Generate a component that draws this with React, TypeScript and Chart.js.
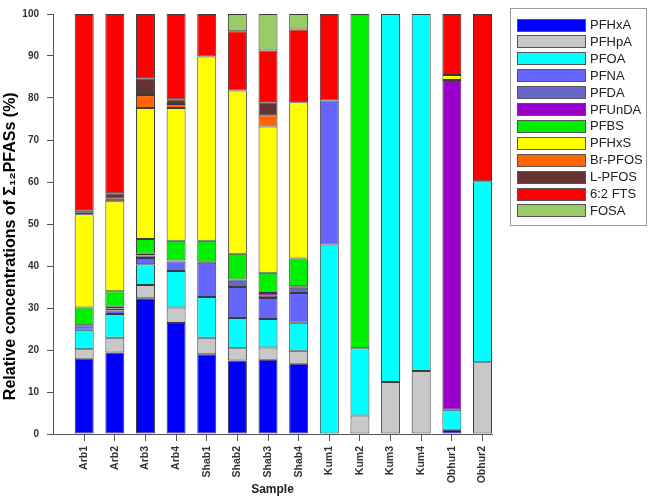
import React, { useEffect, useRef } from "react";
import { Chart, registerables } from "chart.js";

Chart.register(...registerables);

const samples = ["Arb1", "Arb2", "Arb3", "Arb4", "Shab1", "Shab2", "Shab3", "Shab4", "Kum1", "Kum2", "Kum3", "Kum4", "Obhur1", "Obhur2"];

const pfhxa = [17.9, 19.4, 32.3, 26.4, 19.0, 17.5, 17.7, 16.7, 0, 0, 0, 0, 1.0, 0];
const pfhpa = [2.3, 3.5, 3.2, 3.7, 3.9, 2.9, 2.9, 3.1, 0, 4.4, 12.4, 15.0, 0, 17.1];
const pfoa = [4.6, 5.7, 4.9, 8.7, 9.7, 7.2, 6.8, 6.7, 45.1, 16.0, 87.6, 85.0, 4.8, 43.1];
const pfna = [1.1, 0.8, 1.5, 2.3, 8.2, 7.4, 5.0, 7.1, 34.3, 0, 0, 0, 0, 0];
const pfda = [0, 0.5, 0.6, 0.2, 0.2, 1.5, 0.5, 1.2, 0, 0, 0, 0, 0, 0];
const pfunda = [0, 0.4, 0.4, 0, 0, 0.3, 0.7, 0.4, 0, 0, 0, 0, 78.5, 0];
const pfbs = [4.2, 3.7, 3.5, 4.7, 5.0, 6.1, 4.8, 6.6, 0, 79.6, 0, 0, 0, 0];
const pfhxs = [22.2, 21.4, 31.2, 31.6, 43.9, 38.9, 34.8, 37.2, 0, 0, 0, 0, 1.2, 0];
const brpfos = [0.4, 0.6, 3.1, 1.0, 0, 0, 2.7, 0, 0, 0, 0, 0, 0, 0];
const lpfos = [0.6, 1.3, 4.0, 1.1, 0, 0, 3.1, 0, 0, 0, 0, 0, 0, 0];
const fts62 = [46.7, 42.7, 15.3, 20.3, 10.1, 14.1, 12.3, 17.3, 20.6, 0, 0, 0, 14.5, 39.8];
const fosa = [0, 0, 0, 0, 0, 4.1, 8.7, 3.7, 0, 0, 0, 0, 0, 0];

const seriesNames = ["PFHxA", "PFHpA", "PFOA", "PFNA", "PFDA", "PFUnDA", "PFBS", "PFHxS", "Br-PFOS", "L-PFOS", "6:2 FTS", "FOSA"];
const seriesValues = [pfhxa, pfhpa, pfoa, pfna, pfda, pfunda, pfbs, pfhxs, brpfos, lpfos, fts62, fosa];
const seriesColors = ["#0000FF", "#C8C8C8", "#00FFFF", "#6666FF", "#6666CC", "#9900CC", "#00EE00", "#FFFF00", "#FF6600", "#663333", "#FF0000", "#99CC66"];

const yTicks = [0, 10, 20, 30, 40, 50, 60, 70, 80, 90, 100];

const FONT = "'Liberation Sans', Arial, sans-serif";

const legendPlugin = {
  id: "boxLegend",
  afterDraw(chart: any) {
    const ctx = chart.ctx;
    const bx = 510, by = 8, bw = 137, bh = 218;
    ctx.save();
    ctx.strokeStyle = "#999";
    ctx.lineWidth = 1;
    ctx.strokeRect(bx + 0.5, by + 0.5, bw - 1, bh - 1);
    chart.data.datasets.forEach((ds: any, i: number) => {
      const cy = 25 + i * 16.9;
      ctx.fillStyle = ds.backgroundColor;
      ctx.fillRect(517, Math.round(cy - 6.5), 69, 13);
      ctx.strokeStyle = "#555";
      ctx.strokeRect(517.5, Math.round(cy - 6.5) + 0.5, 68, 12);
      ctx.fillStyle = "#222";
      ctx.font = `13px ${FONT}`;
      ctx.textBaseline = "middle";
      ctx.textAlign = "left";
      ctx.fillText(ds.label, 590, cy + 0.5);
    });
    ctx.restore();
  },
};

export default function App() {
  const ref = useRef<HTMLCanvasElement | null>(null);
  useEffect(() => {
    document.body.style.margin = "0";
    const canvas = ref.current!;
    const chart = new Chart(canvas, {
      type: "bar",
      data: {
        datasets: seriesNames.map((name, k) => ({
          label: name,
          data: seriesValues[k].map((v, i) => ({ x: i + 1, y: v === 0 ? null : v })),
          backgroundColor: seriesColors[k],
          borderColor: "#3a3a3a",
          borderWidth: 1,
          borderSkipped: false,
          barPercentage: 0.62,
          categoryPercentage: 1,
        })),
      },
      options: {
        animation: false,
        responsive: false,
        layout: { padding: { top: 5, right: 157, bottom: 0, left: 0 } },
        plugins: { legend: { display: false }, tooltip: { enabled: false } },
        scales: {
          x: {
            type: "linear",
            stacked: true,
            offset: false,
            min: -0.018,
            max: 14.31,
            afterBuildTicks: (s: any) => {
              s.ticks = samples.map((_, i) => ({ value: i + 1 }));
            },
            afterFit: (s: any) => {
              s.height = 65;
            },
            ticks: {
              autoSkip: false,
              maxRotation: 90,
              minRotation: 90,
              padding: 5,
              color: "#333",
              font: { family: FONT, size: 10.5, weight: "bold" },
              callback: (v: any) => samples[Math.round(v) - 1],
            },
            grid: { offset: false, drawOnChartArea: false, drawTicks: true, tickLength: 7, color: "#555" },
            border: { display: true, color: "#555", width: 1 },
            title: {
              display: true,
              text: "Sample",
              color: "#222",
              font: { family: FONT, size: 12, weight: "bold" },
              padding: { top: 0, bottom: 2 },
            },
          },
          y: {
            stacked: true,
            min: 0,
            max: 100,
            afterBuildTicks: (s: any) => {
              s.ticks = yTicks.map((v) => ({ value: v }));
            },
            afterFit: (s: any) => {
              s.width = 53;
            },
            ticks: {
              padding: 8,
              color: "#333",
              font: { family: FONT, size: 10, weight: "bold" },
            },
            grid: { drawOnChartArea: false, drawTicks: true, tickLength: 6, color: "#555" },
            border: { display: true, color: "#555", width: 1 },
            title: {
              display: true,
              text: "Relative concentrations of Σ₁₂PFASs (%)          ",
              color: "#000",
              font: { family: FONT, size: 16, weight: "bold" },
              padding: { top: 1, bottom: 0 },
            },
          },
        },
      },
      plugins: [legendPlugin],
    } as any);
    return () => chart.destroy();
  }, []);
  return (
    <div style={{ width: 649, height: 499 }}>
      <canvas ref={ref} width={649} height={499} style={{ width: 649, height: 499, display: "block" }} />
    </div>
  );
}
